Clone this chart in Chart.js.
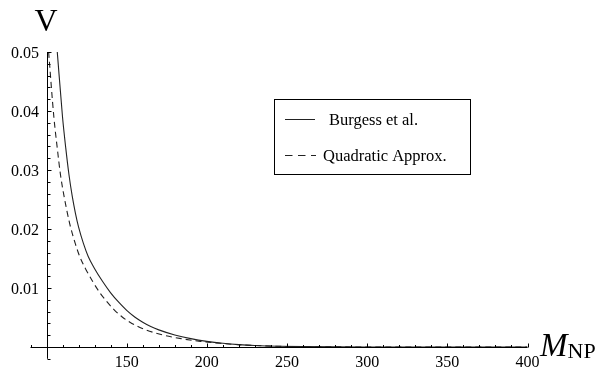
<!DOCTYPE html>
<html><head><meta charset="utf-8">
<script src="https://cdn.jsdelivr.net/npm/chart.js@4.4.1/dist/chart.umd.min.js"></script>
<style>html,body{margin:0;padding:0;background:#fff}#wrap{width:612px;height:383px;position:relative}</style>
</head><body><div id="wrap"><canvas id="c"></canvas></div>
<script>
// ---- data ----
const burgessM = [106.7,110,112,114,116,118,120,123,126,130,135,140,145,150,155,160,165,170,180,190,200,210,220,230,245,260,280,300,350,400];
const burgessV = [0.0500,0.0389,0.0337,0.0292,0.0256,0.0227,0.0203,0.01756,0.01534,0.01328,0.01110,0.00918,0.00759,0.00621,0.00509,0.00421,0.00348,0.00290,0.00204,0.00142,0.00096,0.00063,0.00040,0.00025,0.000118,0.000056,0.00002,0.0000075,0.0000006,0];
const quadM = [101.3,104.6,106.7,108.7,110.9,113,115,117.9,120.7,124.3,128.8,133.3,137.9,142.5,147.2,152,157,162,172.5,184,196,208,219.5,230,245,260,280,300,350,400];
const quadV = [0.0500,0.0389,0.0337,0.0292,0.0256,0.0227,0.0203,0.01756,0.01534,0.01328,0.01110,0.00918,0.00759,0.00621,0.00509,0.00421,0.00348,0.00290,0.00204,0.00142,0.00096,0.00063,0.00040,0.00025,0.000118,0.000056,0.00002,0.0000075,0.0000006,0];
const xTickLabels = [150,200,250,300,350,400];
const yTickLabels = [0.01,0.02,0.03,0.04,0.05];
const seriesNames = ['Burgess et al.','Quadratic Approx.'];
const yAxisTitle = 'V';
const xAxisTitleMain = 'M';
const xAxisTitleSub = 'NP';

const SERIF = '"Liberation Serif","Times New Roman",serif';

const mathAxes = {
  id: 'mathAxes',
  afterDatasetsDraw(chart) {
    const ctx = chart.ctx, xs = chart.scales.x, ys = chart.scales.y;
    const X = v => xs.getPixelForValue(v), Y = v => ys.getPixelForValue(v);
    ctx.save();
    ctx.strokeStyle = '#000'; ctx.lineWidth = 1; ctx.setLineDash([]);
    const y0 = Math.round(Y(0)) + 0.5, x0 = Math.round(X(100)) + 0.5;
    // axes lines
    ctx.beginPath();
    ctx.moveTo(X(90), y0); ctx.lineTo(X(400), y0);
    ctx.moveTo(x0, Y(-0.002)); ctx.lineTo(x0, Y(0.05));
    ctx.stroke();
    // x ticks
    ctx.beginPath();
    for (let v = 90; v <= 400; v += 10) {
      if (v === 100) continue;
      const px = Math.round(X(v)) + 0.5;
      const len = (v % 50 === 0) ? 4 : 2.5;
      ctx.moveTo(px, y0); ctx.lineTo(px, y0 - len);
    }
    // y ticks
    for (let i = -1; i <= 25; i++) {
      if (i === 0) continue;
      const v = i * 0.002;
      const py = Math.round(Y(v)) + 0.5;
      const len = (i % 5 === 0) ? 4 : 3;
      ctx.moveTo(x0, py); ctx.lineTo(x0 + len, py);
    }
    ctx.stroke();
    // tick labels
    ctx.fillStyle = '#000';
    ctx.font = '16px ' + SERIF;
    ctx.textAlign = 'center'; ctx.textBaseline = 'alphabetic';
    xTickLabels.forEach(v => ctx.fillText(String(v), X(v), y0 + 19));
    ctx.textAlign = 'right';
    yTickLabels.forEach(v => ctx.fillText(v.toFixed(2), 39, Y(v) + 5.5));
    // axis titles
    ctx.textAlign = 'center';
    ctx.font = '32px ' + SERIF;
    ctx.fillText(yAxisTitle, 46, 31);
    ctx.textAlign = 'left';
    ctx.font = 'italic 33px ' + SERIF;
    ctx.fillText(xAxisTitleMain, 540, 356);
    const mw = ctx.measureText(xAxisTitleMain).width;
    ctx.font = '22px ' + SERIF;
    ctx.fillText(xAxisTitleSub, 540 + mw, 358);
    // legend
    ctx.lineWidth = 1;
    ctx.strokeRect(274.5, 99.5, 196, 75);
    ctx.strokeStyle = '#222';
    ctx.beginPath(); ctx.moveTo(285, 119.5); ctx.lineTo(315, 119.5); ctx.stroke();
    ctx.setLineDash([7.5, 5.5]);
    ctx.beginPath(); ctx.moveTo(285, 155.5); ctx.lineTo(316, 155.5); ctx.stroke();
    ctx.setLineDash([]);
    ctx.font = '16.5px ' + SERIF;
    ctx.fillText(seriesNames[0], 329, 124.5);
    ctx.fillText(seriesNames[1], 323, 160.5);
    ctx.restore();
  }
};

new Chart(document.getElementById('c'), {
  type: 'line',
  data: {
    datasets: [
      { label: seriesNames[0], data: burgessM.map((m,i) => ({x:m, y:burgessV[i]})),
        borderColor: '#222', borderWidth: 1.1, pointRadius: 0, cubicInterpolationMode: 'monotone', fill: false },
      { label: seriesNames[1], data: quadM.map((m,i) => ({x:m, y:quadV[i]})),
        borderColor: '#222', borderWidth: 1.1, borderDash: [6,4], pointRadius: 0, cubicInterpolationMode: 'monotone', fill: false }
    ]
  },
  options: {
    responsive: true, maintainAspectRatio: false, animation: false,
    layout: { padding: { left: 30.5, right: 84.5, top: 52, bottom: 24.2 } },
    plugins: { legend: { display: false }, tooltip: { enabled: false }, title: { display: false } },
    scales: {
      x: { type: 'linear', min: 90, max: 400, display: false },
      y: { type: 'linear', min: -0.002, max: 0.05, display: false }
    }
  },
  plugins: [mathAxes]
});
</script>
</body></html>
